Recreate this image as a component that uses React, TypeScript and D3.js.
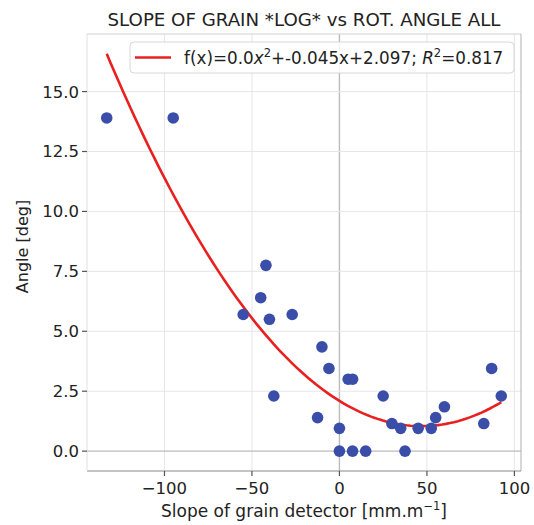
import React from "react";
import * as d3 from "d3";

const slopeValues = [-133, -95, -55, -45, -42, -40, -37.5, -27, -12.5, -10, -6, 0, 0, 5, 7.5, 7.5, 15, 25, 30, 35, 37.5, 45, 52.5, 55, 60, 82.5, 87, 92.5];
const angleValues = [13.9, 13.9, 5.7, 6.4, 7.75, 5.5, 2.3, 5.7, 1.4, 4.35, 3.45, 0.95, 0, 3.0, 3.0, 0, 0, 2.3, 1.15, 0.95, 0, 0.95, 0.95, 1.4, 1.85, 1.15, 3.45, 2.3];
const fitCoefficients = [0.00048, -0.045, 2.097]; // a, b, c
const xTicks = [-100, -50, 0, 50, 100];
const yTicks = [0, 2.5, 5, 7.5, 10, 12.5, 15];
const titleText = "SLOPE OF GRAIN *LOG* vs ROT. ANGLE ALL";
const yLabel = "Angle [deg]";

const W = 534, H = 525;
const L = 87, R = 521, T = 34, B = 471;
const FONT = "DejaVu Sans, sans-serif";

const fmtTick = (v: number, dec: number) => {
  const s = v.toFixed(dec);
  return s.replace("-", "\u2212");
};

export default function App() {
  const [a, b, c] = fitCoefficients;
  const fit = (x: number) => a * x * x + b * x + c;
  const xExt = d3.extent(slopeValues) as [number, number];
  const curveX = d3.range(0, 101).map((i) => xExt[0] + ((xExt[1] - xExt[0]) * i) / 100);
  const curve = curveX.map((x) => [x, fit(x)] as [number, number]);

  const yMaxData = Math.max(d3.max(angleValues)!, d3.max(curve, (d) => d[1])!);
  const yMinData = Math.min(d3.min(angleValues)!, d3.min(curve, (d) => d[1])!);
  const xm = (xExt[1] - xExt[0]) * 0.05;
  const ym = (yMaxData - yMinData) * 0.05;

  const x = d3.scaleLinear().domain([xExt[0] - xm, xExt[1] + xm]).range([L, R]);
  const y = d3.scaleLinear().domain([yMinData - ym, yMaxData + ym]).range([B, T]);

  const line = d3.line<[number, number]>().x((d) => x(d[0])).y((d) => y(d[1])).curve(d3.curveLinear);

  const cx = (L + R) / 2;

  return (
    <svg width={W} height={H} style={{ position: "absolute", left: 0, top: 0, background: "#fff" }} fontFamily={FONT}>
      <rect x={0} y={0} width={W} height={H} fill="#fff" />
      {/* grid */}
      {xTicks.map((t) => (
        <line key={"gx" + t} x1={x(t)} x2={x(t)} y1={T} y2={B} stroke={t === 0 ? "#bcbcbc" : "#e6e6e6"} strokeWidth={t === 0 ? 1.4 : 1} />
      ))}
      {yTicks.map((t) => (
        <line key={"gy" + t} x1={L} x2={R} y1={y(t)} y2={y(t)} stroke={t === 0 ? "#bcbcbc" : "#e6e6e6"} strokeWidth={t === 0 ? 1.4 : 1} />
      ))}
      {/* frame */}
      <line x1={L} x2={R} y1={T} y2={T} stroke="#d0d0d0" strokeWidth={1} />
      <line x1={R} x2={R} y1={T} y2={B} stroke="#b0b0b0" strokeWidth={1} />
      <line x1={L} x2={R} y1={B} y2={B} stroke="#8a8a8a" strokeWidth={1.2} />
      <line x1={L} x2={L} y1={T} y2={B} stroke="#e0e0e0" strokeWidth={1} />
      {/* ticks */}
      {xTicks.map((t) => (
        <g key={"tx" + t}>
          <line x1={x(t)} x2={x(t)} y1={B} y2={B + 5} stroke="#555" strokeWidth={1.2} />
          <text x={x(t)} y={B + 23} textAnchor="middle" fontSize={16.5} fill="#222">{fmtTick(t, 0)}</text>
        </g>
      ))}
      {yTicks.map((t) => (
        <g key={"ty" + t}>
          <line x1={L - 5} x2={L} y1={y(t)} y2={y(t)} stroke="#555" strokeWidth={1.2} />
          <text x={L - 8} y={y(t)} dy="0.36em" textAnchor="end" fontSize={16.5} fill="#222">{fmtTick(t, 1)}</text>
        </g>
      ))}
      {/* fit line */}
      <path d={line(curve) || ""} fill="none" stroke="#e8201f" strokeWidth={2.6} />
      {/* points */}
      {slopeValues.map((sv, i) => (
        <circle key={"p" + i} cx={x(sv)} cy={y(angleValues[i])} r={5.8} fill="#3a4ea9" />
      ))}
      {/* legend */}
      <rect x={130} y={42} width={384} height={31} rx={4} fill="#fff" fillOpacity={0.85} stroke="#d8d8d8" strokeWidth={1} />
      <line x1={135} x2={171} y1={57.5} y2={57.5} stroke="#e8201f" strokeWidth={2.6} />
      <text x={184} y={63.5} fontSize={16.8} fill="#222">
        f(x)=0.0<tspan fontStyle="italic">x</tspan>
        <tspan fontSize={11.5} dy={-7}>2</tspan>
        <tspan dy={7}>+-0.045x+2.097; </tspan>
        <tspan fontStyle="italic">R</tspan>
        <tspan fontSize={11.5} dy={-7}>2</tspan>
        <tspan dy={7}>=0.817</tspan>
      </text>
      {/* title */}
      <text x={cx} y={26} textAnchor="middle" fontSize={18.2} fill="#222">{titleText}</text>
      {/* axis labels */}
      <text x={cx} y={517} textAnchor="middle" fontSize={17} fill="#222">
        Slope of grain detector [mm.m<tspan fontSize={11.5} dy={-7}>{"\u22121"}</tspan><tspan dy={7}>]</tspan>
      </text>
      <text transform={`translate(28, ${(T + B) / 2 - 6}) rotate(-90)`} textAnchor="middle" fontSize={16} fill="#222">{yLabel}</text>
    </svg>
  );
}
